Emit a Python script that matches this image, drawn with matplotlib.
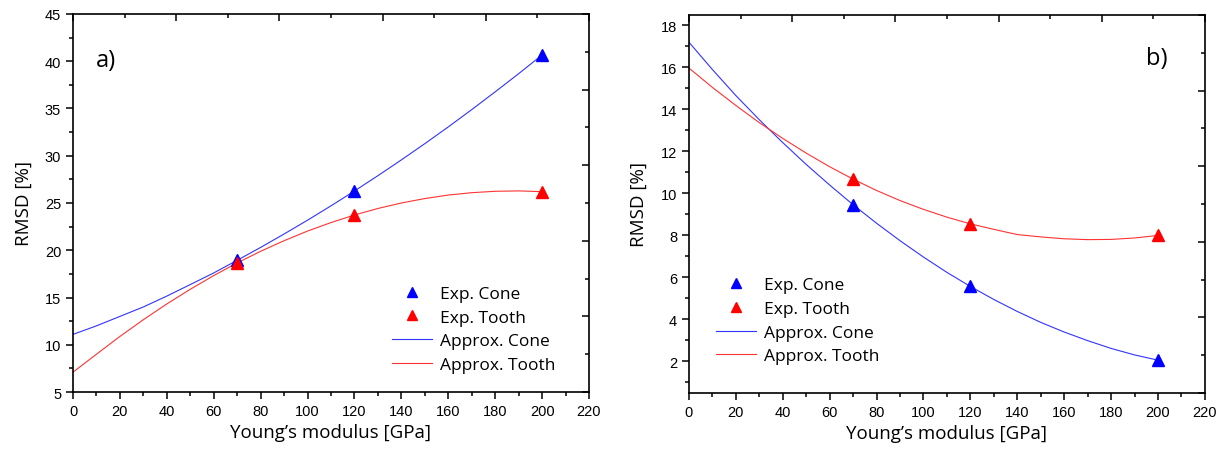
import matplotlib
matplotlib.use("Agg")
import matplotlib.pyplot as plt
from matplotlib.ticker import MultipleLocator

# Experimental points (Young's modulus in GPa, RMSD in %)
E_exp = [70, 120, 200]
cone_a = [18.94, 26.27, 40.66]
tooth_a = [18.66, 23.73, 26.2]
cone_b = [9.46, 5.57, 2.06]
tooth_b = [10.68, 8.55, 8.0]

# Approximation curves
E_fit = [0, 10, 20, 30, 40, 50, 60, 70, 80, 90, 100, 110, 120, 130, 140, 150, 160, 170, 180, 190, 200]
cone_a_fit = [11.1, 12.0, 13.0, 14.0, 15.15, 16.37, 17.6, 18.94, 20.3, 21.72, 23.18, 24.7, 26.27,
              27.89, 29.56, 31.28, 33.05, 34.88, 36.76, 38.68, 40.66]
tooth_a_fit = [7.1, 9.0, 10.88, 12.65, 14.32, 15.87, 17.32, 18.66, 19.89, 21.01, 22.03, 22.93, 23.73,
               24.42, 25.0, 25.47, 25.84, 26.09, 26.24, 26.28, 26.2]
cone_b_fit = [17.2, 15.9, 14.66, 13.51, 12.42, 11.38, 10.4, 9.46, 8.58, 7.75, 6.97, 6.24, 5.57,
              4.95, 4.38, 3.86, 3.4, 2.99, 2.62, 2.31, 2.06]
tooth_b_fit = [15.97, 15.05, 14.19, 13.37, 12.62, 11.92, 11.27, 10.68, 10.14, 9.66, 9.24, 8.87, 8.55,
               8.29, 8.04, 7.93, 7.84, 7.8, 7.81, 7.88, 8.0]

label_font = "Open Sans"
tick_font = "Liberation Sans"

fig = plt.figure(figsize=(12.25, 4.64), dpi=100)


def make_panel(rect, cone, tooth, cone_fit, tooth_fit, ylim, ymaj, ymin, tag, tag_xy, leg_xy):
    ax = fig.add_axes(rect)
    ax.plot(E_fit, cone_fit, color="#3333ff", lw=0.8, label="Approx. Cone")
    ax.plot(E_fit, tooth_fit, color="#ff3333", lw=0.8, label="Approx. Tooth")
    ax.plot(E_exp, cone, "^", color="blue", ms=9, ls="none", label="Exp. Cone")
    ax.plot(E_exp, tooth, "^", color="red", ms=9, ls="none", label="Exp. Tooth")
    ax.set_xlim(0, 220)
    ax.set_ylim(*ylim)
    ax.xaxis.set_major_locator(MultipleLocator(20))
    ax.xaxis.set_minor_locator(MultipleLocator(10))
    ax.yaxis.set_major_locator(MultipleLocator(ymaj))
    ax.yaxis.set_minor_locator(MultipleLocator(ymin))
    ax.tick_params(which="both", direction="out", top=False, right=False, width=1.1)
    ax.tick_params(which="major", length=5, labelsize=10.5)
    ax.tick_params(which="minor", length=3)
    for lab in ax.get_xticklabels() + ax.get_yticklabels():
        lab.set_fontfamily(tick_font)
    for sp in ax.spines.values():
        sp.set_linewidth(1.2)
    ax.set_xlabel("Young\u2019s modulus [GPa]", fontfamily=label_font, fontsize=13.5, labelpad=4)
    ax.set_ylabel("RMSD [%]", fontfamily=label_font, fontsize=13.5, labelpad=9)
    ax.text(tag_xy[0], tag_xy[1], tag, transform=ax.transAxes, fontfamily=label_font,
            fontsize=17, va="center", ha="left")
    h, l = ax.get_legend_handles_labels()
    order = [2, 3, 0, 1]
    ax.legend([h[i] for i in order], [l[i] for i in order], loc="upper left",
              bbox_to_anchor=leg_xy, frameon=False, borderpad=0, borderaxespad=0,
              handlelength=2.3, handletextpad=0.5, labelspacing=0.43, markerscale=0.75,
              prop={"family": label_font, "size": 12.5})

    # top / right ticks: ten divisions, no labels
    ov = fig.add_axes(rect, facecolor="none")
    ov.set_xlim(0, 10)
    ov.set_ylim(0, 10)
    for sp in ov.spines.values():
        sp.set_visible(False)
    ov.xaxis.set_major_locator(MultipleLocator(2))
    ov.xaxis.set_minor_locator(MultipleLocator(1))
    ov.yaxis.set_major_locator(MultipleLocator(2))
    ov.yaxis.set_minor_locator(MultipleLocator(1))
    ov.tick_params(which="both", direction="in", top=True, right=True, bottom=False, left=False,
                   labeltop=False, labelright=False, labelbottom=False, labelleft=False, width=1.1)
    ov.tick_params(which="major", length=5)
    ov.tick_params(which="minor", length=3)
    return ax


make_panel([0.0596, 0.153, 0.4212, 0.8147], cone_a, tooth_a, cone_a_fit, tooth_a_fit,
           (5, 45), 5, 2.5, "a)", (0.045, 0.878), (0.618, 0.281))
make_panel([0.5624, 0.151, 0.4212, 0.8147], cone_b, tooth_b, cone_b_fit, tooth_b_fit,
           (0.5, 18.5), 2, 1, "b)", (0.886, 0.886), (0.052, 0.306))

fig.savefig("out.png", dpi=100)
